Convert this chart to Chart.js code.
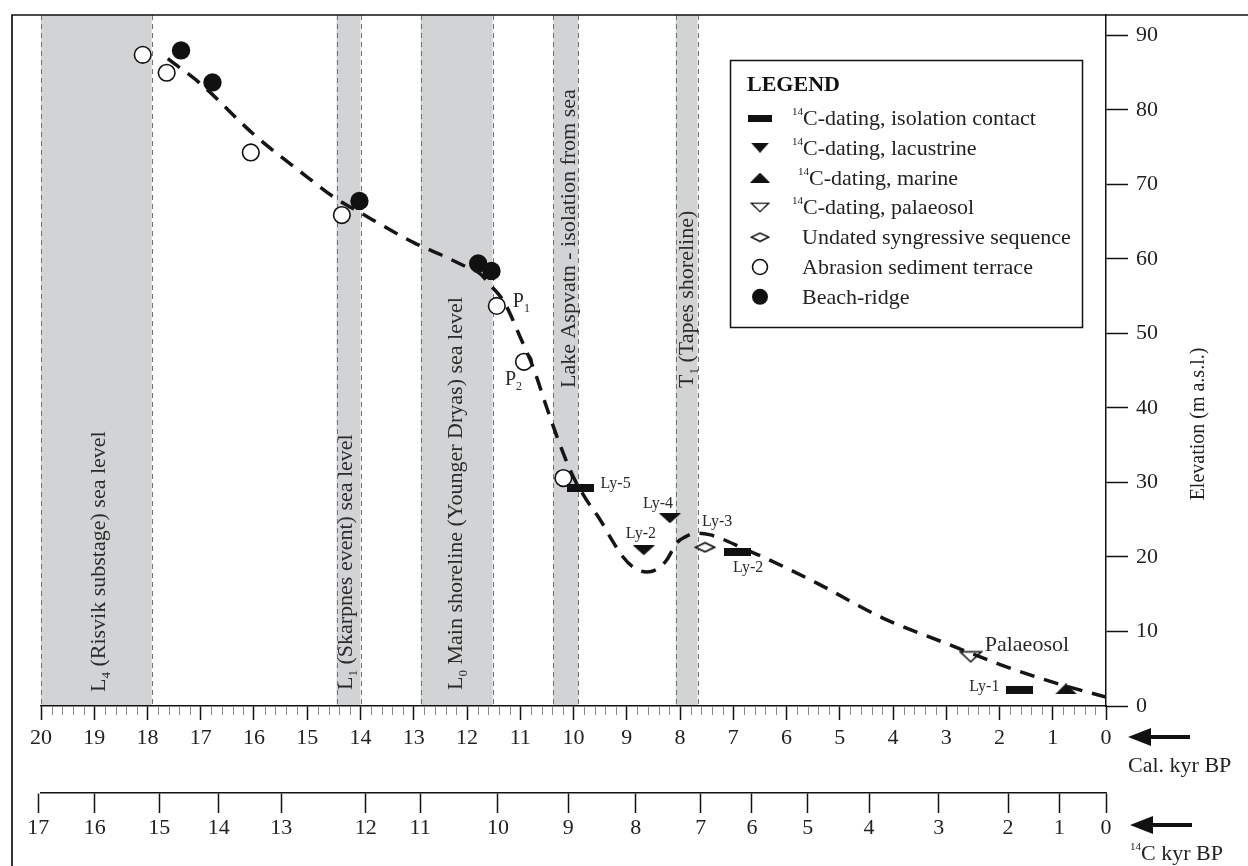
<!DOCTYPE html>
<html><head><meta charset="utf-8">
<script src="https://cdn.jsdelivr.net/npm/chart.js@4.4.1/dist/chart.umd.min.js"></script>
<style>html,body{margin:0;padding:0;background:#fff}#wrap{width:1248px;height:866px;position:relative}</style>
</head><body><div id="wrap"><canvas id="c" width="1248" height="866"></canvas></div>
<script>
// ---------------- DATA ----------------
const calTicks = [0,1,2,3,4,5,6,7,8,9,10,11,12,13,14,15,16,17,18,19,20];
const c14Labels = ['17','16','15','14','13','12','11','10','9','8','7','6','5','4','3','2','1','0'];
const c14CalPositions = [20.05,18.99,17.78,16.66,15.49,13.90,12.88,11.42,10.10,8.83,7.61,6.65,5.60,4.45,3.14,1.84,0.88,0.0];
const elevationTicks = [0,10,20,30,40,50,60,70,80,90];

const bandStart = [20.0, 14.45, 12.87, 10.38, 8.08];
const bandEnd   = [17.92, 14.0, 11.52, 9.91, 7.67];
const bandTexts = [
  [['L',0],['4',1],[' (Risvik substage) sea level',0]],
  [['L',0],['1',1],[' (Skarpnes event) sea level',0]],
  [['L',0],['0',1],[' Main shoreline (Younger Dryas) sea level',0]],
  [['Lake Aspvatn - isolation from sea',0]],
  [['T',0],['1',1],[' (Tapes shoreline)',0]]
];

const isolationAge  = [9.87, 6.92, 1.63];
const isolationElev = [29.3, 20.7, 2.1];
const isolationLabel = ['Ly-5','Ly-2','Ly-1'];

const lacustrineAge  = [8.19, 8.68];
const lacustrineElev = [25.2, 20.9];
const lacustrineLabel = ['Ly-4','Ly-2'];

const marineAge  = [0.75];
const marineElev = [2.3];

const palaeosolAge  = [2.54];
const palaeosolElev = [6.6];
const palaeosolLabel = ['Palaeosol'];

const undatedAge  = [7.53];
const undatedElev = [21.3];
const undatedLabel = ['Ly-3'];

const abrasionAge  = [18.09, 17.64, 16.06, 14.35, 11.44, 10.93, 10.19];
const abrasionElev = [87.4, 85.0, 74.3, 65.9, 53.7, 46.2, 30.6];
const abrasionLabel = ['', '', '', '', 'P1', 'P2', ''];

const beachAge  = [17.37, 16.78, 14.02, 11.79, 11.54];
const beachElev = [88.0, 83.7, 67.8, 59.4, 58.4];

const curveAge  = [17.62,17.0,16.0,15.0,14.5,14.0,13.0,12.5,12.0,11.75,11.55,11.3,11.0,10.75,10.5,10.25,10.0,9.75,9.5,9.28,9.07,8.85,8.62,8.4,8.25,8.06,7.9,7.7,7.45,7.2,6.8,6.44,5.43,4.19,3.0,2.0,1.0,0.0];
const curveElev = [86.9,83.5,76.7,71.0,68.3,66.2,62.2,60.6,58.9,58.0,56.4,54.2,49.5,45.3,40.0,35.0,30.7,27.6,25.0,22.3,20.0,18.5,18.0,18.5,19.6,21.9,22.7,23.2,23.0,22.4,21.1,20.0,16.5,11.8,8.4,5.6,3.2,1.2];

const legendTitle = 'LEGEND';
const legendItems = [
  ['14','C-dating, isolation contact'],
  ['14','C-dating, lacustrine'],
  ['14','C-dating, marine'],
  ['14','C-dating, palaeosol'],
  ['','Undated syngressive sequence'],
  ['','Abrasion sediment terrace'],
  ['','Beach-ridge']
];

// ---------------- STYLE ----------------
const FONT = "'Liberation Serif','Times New Roman',serif";
const INK = '#111';
const bandLabelStyle = [ {dx:-47, y:692}, {dx:-9, y:690}, {dx:-31, y:690}, {dx:-3, y:388}, {dx:-5, y:388} ];
const pointLabelStyle = {
  'Ly-5':{dx:20,dy:0,size:16}, 'Ly-2a':{dx:-4.5,dy:20,size:16}, 'Ly-1':{dx:-50,dy:1,size:16},
  'Ly-4':{dx:-27,dy:-10,size:16}, 'Ly-2b':{dx:-18,dy:-12,size:16}, 'Ly-3':{dx:-3,dy:-21,size:16},
  'Palaeosol':{dx:14,dy:-6,size:22}, 'P1':{dx:16,dy:1,size:20}, 'P2':{dx:-19,dy:23,size:20}
};

function mk(w,h,draw){const c=document.createElement('canvas');c.width=w;c.height=h;const g=c.getContext('2d');draw(g,w,h);return c;}
const barImg = mk(27,8,(g,w,h)=>{g.fillStyle=INK;g.fillRect(0,0,w,h);});
const triDownImg = mk(22,10,(g,w,h)=>{g.fillStyle=INK;g.beginPath();g.moveTo(0,0);g.lineTo(w,0);g.lineTo(w/2,h);g.closePath();g.fill();});
const triUpImg = mk(22,11,(g,w,h)=>{g.fillStyle=INK;g.beginPath();g.moveTo(0,h);g.lineTo(w,h);g.lineTo(w/2,0);g.closePath();g.fill();});
const triOpenImg = mk(24,13,(g,w,h)=>{g.fillStyle='#fff';g.strokeStyle=INK;g.lineWidth=1.6;g.beginPath();g.moveTo(1.5,1.5);g.lineTo(w-1.5,1.5);g.lineTo(w/2,h-1.5);g.closePath();g.fill();g.stroke();});
const diamondImg = mk(22,12,(g,w,h)=>{g.fillStyle='#fff';g.strokeStyle=INK;g.lineWidth=1.6;g.beginPath();g.moveTo(1.5,h/2);g.lineTo(w/2,1.5);g.lineTo(w-1.5,h/2);g.lineTo(w/2,h-1.5);g.closePath();g.fill();g.stroke();});

function pts(a,e){return a.map((v,i)=>({x:v,y:e[i]}));}

function drawRich(ctx, parts, x, y, size, subSize, subDy){
  for(const [t,kind] of parts){
    const s = kind ? subSize : size;
    ctx.font = s + 'px ' + FONT;
    ctx.fillText(t, x, y + (kind ? subDy : 0));
    x += ctx.measureText(t).width;
  }
  return x;
}

const bandsPlugin = {
  id:'bands',
  beforeDraw(chart){
    const {ctx, chartArea:ca, scales:{x}} = chart;
    ctx.save();
    for(let i=0;i<bandStart.length;i++){
      const x1 = x.getPixelForValue(bandStart[i]);
      const x2 = x.getPixelForValue(bandEnd[i]);
      ctx.fillStyle = '#d2d3d5';
      ctx.fillRect(x1, ca.top, x2-x1, ca.bottom-ca.top);
      ctx.strokeStyle = '#707070'; ctx.lineWidth = 1; ctx.setLineDash([5,4]);
      for(const xx of [x1,x2]){ ctx.beginPath(); ctx.moveTo(Math.round(xx)+0.5, ca.top); ctx.lineTo(Math.round(xx)+0.5, ca.bottom); ctx.stroke(); }
      ctx.setLineDash([]);
      const st = bandLabelStyle[i];
      ctx.save();
      ctx.translate(x2 + st.dx, st.y);
      ctx.rotate(-Math.PI/2);
      ctx.fillStyle = '#2a2a2a'; ctx.textBaseline='alphabetic'; ctx.textAlign='left';
      drawRich(ctx, bandTexts[i], 0, 0, 22, 13, 5);
      ctx.restore();
    }
    ctx.restore();
  },
  afterDraw(chart){
    const {ctx, chartArea:ca, scales:{x, y}} = chart;
    ctx.save();
    // minor ticks on calendar axis
    ctx.strokeStyle = '#8a8a8a'; ctx.lineWidth = 1;
    for(let k=1;k<100;k++){
      if(k%5===0) continue;
      const px = Math.round(x.getPixelForValue(k*0.2))+0.5;
      ctx.beginPath(); ctx.moveTo(px, ca.bottom+1); ctx.lineTo(px, ca.bottom+9); ctx.stroke();
    }
    // point labels
    ctx.fillStyle = '#2a2a2a'; ctx.textBaseline='alphabetic'; ctx.textAlign='left';
    const lab = (t, key, age, elev) => {
      const st = pointLabelStyle[key];
      const px = x.getPixelForValue(age), py = y.getPixelForValue(elev);
      if(t.length===2 && t[0]==='P'){
        drawRich(ctx, [['P',0],[t[1],1]], px+st.dx, py+st.dy, st.size, 12, 5);
      } else {
        ctx.font = st.size + 'px ' + FONT; ctx.fillText(t, px+st.dx, py+st.dy);
      }
    };
    lab(isolationLabel[0],'Ly-5',isolationAge[0],isolationElev[0]);
    lab(isolationLabel[1],'Ly-2a',isolationAge[1],isolationElev[1]);
    lab(isolationLabel[2],'Ly-1',isolationAge[2],isolationElev[2]);
    lab(lacustrineLabel[0],'Ly-4',lacustrineAge[0],lacustrineElev[0]);
    lab(lacustrineLabel[1],'Ly-2b',lacustrineAge[1],lacustrineElev[1]);
    lab(undatedLabel[0],'Ly-3',undatedAge[0],undatedElev[0]);
    lab(palaeosolLabel[0],'Palaeosol',palaeosolAge[0],palaeosolElev[0]);
    lab(abrasionLabel[4],'P1',abrasionAge[4],abrasionElev[4]);
    lab(abrasionLabel[5],'P2',abrasionAge[5],abrasionElev[5]);

    // y-axis title
    ctx.save();
    ctx.translate(1199, 424); ctx.rotate(-Math.PI/2);
    ctx.fillStyle = '#222'; ctx.font = '20px ' + FONT; ctx.textAlign='center'; ctx.textBaseline='middle';
    ctx.fillText('Elevation (m a.s.l.)', 0, 0);
    ctx.restore();

    // arrows and axis names
    ctx.fillStyle = INK;
    const arrow = (tipX, yy) => {
      ctx.beginPath(); ctx.moveTo(tipX, yy); ctx.lineTo(tipX+23, yy-9); ctx.lineTo(tipX+23, yy+9); ctx.closePath(); ctx.fill();
      ctx.fillRect(tipX+20, yy-2, 42, 4);
    };
    arrow(1128, 737);
    arrow(1130, 825);
    ctx.fillStyle = '#222'; ctx.textAlign='left'; ctx.textBaseline='alphabetic';
    ctx.font = '22px ' + FONT; ctx.fillText('Cal. kyr BP', 1128, 772);
    let xx = 1130;
    ctx.font = '11px ' + FONT; ctx.fillText('14', xx, 850); xx += ctx.measureText('14').width;
    ctx.font = '22px ' + FONT; ctx.fillText('C kyr BP', xx, 860);

    // legend box
    ctx.fillStyle = '#fff'; ctx.strokeStyle = INK; ctx.lineWidth = 1.5;
    ctx.fillRect(730, 60, 352, 267); ctx.strokeRect(730.5, 60.5, 352, 267);
    ctx.fillStyle = INK; ctx.font = 'bold 22px ' + FONT;
    ctx.fillText(legendTitle, 747, 91);
    const markers = [
      (cx,cy)=>ctx.drawImage(barImg, cx-12, cy-3.5, 24, 7),
      (cx,cy)=>ctx.drawImage(triDownImg, cx-9, cy-5, 18, 10),
      (cx,cy)=>ctx.drawImage(triUpImg, cx-10, cy-5, 20, 10),
      (cx,cy)=>ctx.drawImage(triOpenImg, cx-10, cy-5.5, 20, 11),
      (cx,cy)=>ctx.drawImage(diamondImg, cx-10, cy-5.5, 20, 11),
      (cx,cy)=>{ctx.beginPath();ctx.arc(cx,cy,7.5,0,Math.PI*2);ctx.fillStyle='#fff';ctx.fill();ctx.lineWidth=1.6;ctx.strokeStyle=INK;ctx.stroke();},
      (cx,cy)=>{ctx.beginPath();ctx.arc(cx,cy,8,0,Math.PI*2);ctx.fillStyle=INK;ctx.fill();}
    ];
    const textX = [792, 792, 798, 792, 802, 802, 802];
    legendItems.forEach((it,i)=>{
      const base = 125 + i*29.8;
      markers[i](760, base-7);
      ctx.fillStyle = '#222';
      let tx = textX[i];
      if(it[0]){ ctx.font='11px '+FONT; ctx.fillText(it[0], tx, base-10); tx += ctx.measureText(it[0]).width; }
      ctx.font = '22px ' + FONT; ctx.fillText(it[1], tx, base);
    });

    // frame
    ctx.strokeStyle = INK; ctx.lineWidth = 1.7;
    ctx.beginPath(); ctx.moveTo(12, 866); ctx.lineTo(12, 15); ctx.lineTo(1248, 15); ctx.stroke();
    ctx.restore();
  }
};

const tickFont = {family: FONT, size: 22};
const noPadX = s => { s.paddingLeft = 0; s.paddingRight = 0; s.paddingTop = 0; s.paddingBottom = 0; };
new Chart(document.getElementById('c'), {
  type: 'scatter',
  data: {
    datasets: [
      {type:'line', label:'curve', data: pts(curveAge, curveElev), borderColor:'#151515', borderWidth:3.5, borderDash:[15,10], pointRadius:0, fill:false, cubicInterpolationMode:'monotone'},
      {label:'isolation', data: pts(isolationAge, isolationElev), pointStyle: barImg, pointRadius:6},
      {label:'lacustrine', data: pts(lacustrineAge, lacustrineElev), pointStyle: triDownImg, pointRadius:6},
      {label:'marine', data: pts(marineAge, marineElev), pointStyle: triUpImg, pointRadius:6},
      {label:'palaeosol', data: pts(palaeosolAge, palaeosolElev), pointStyle: triOpenImg, pointRadius:6},
      {label:'undated', data: pts(undatedAge, undatedElev), pointStyle: diamondImg, pointRadius:6},
      {label:'abrasion', data: pts(abrasionAge, abrasionElev), pointStyle:'circle', pointRadius:8.3, borderWidth:1.6, borderColor:INK, backgroundColor:'#fff'},
      {label:'beach', data: pts(beachAge, beachElev), pointStyle:'circle', pointRadius:9.2, borderWidth:0, backgroundColor:INK}
    ]
  },
  options: {
    responsive:false, animation:false, devicePixelRatio:1,
    layout:{padding:{left:41, top:15, right:0, bottom:0}},
    plugins:{legend:{display:false}, tooltip:{enabled:false}},
    events:[],
    scales:{
      x:{type:'linear', axis:'x', position:'bottom', weight:0, reverse:true, min:0, max:20,
        afterBuildTicks: s => { s.ticks = calTicks.map(v=>({value:v})); },
        afterFit: s => { s.height = 87; noPadX(s); },
        grid:{drawOnChartArea:false, drawTicks:true, tickLength:14, tickColor:INK, tickWidth:1.5},
        border:{display:true, color:INK, width:1.5},
        ticks:{font:tickFont, color:'#222', padding:5, maxRotation:0, autoSkip:false, callback: v => String(v)}
      },
      x2:{type:'linear', axis:'x', position:'bottom', weight:1, reverse:true, min:0, max:20,
        afterBuildTicks: s => { s.ticks = c14CalPositions.map(v=>({value:v})); },
        afterFit: s => { s.height = 73; noPadX(s); },
        grid:{drawOnChartArea:false, drawTicks:true, tickLength:20, tickColor:INK, tickWidth:1.5},
        border:{display:true, color:INK, width:1.5},
        ticks:{font:tickFont, color:'#222', padding:2, maxRotation:0, autoSkip:false, callback: (v,i) => c14Labels[i]}
      },
      y:{type:'linear', position:'right', min:0, max:92.75,
        afterBuildTicks: s => { s.ticks = elevationTicks.map(v=>({value:v})); },
        afterFit: s => { s.width = 142; noPadX(s); },
        grid:{drawOnChartArea:false, drawTicks:true, tickLength:22, tickColor:INK, tickWidth:1.5},
        border:{display:true, color:INK, width:1.5},
        ticks:{font:tickFont, color:'#222', padding:8, callback: v => String(v)}
      }
    }
  },
  plugins:[bandsPlugin]
});
</script></body></html>
